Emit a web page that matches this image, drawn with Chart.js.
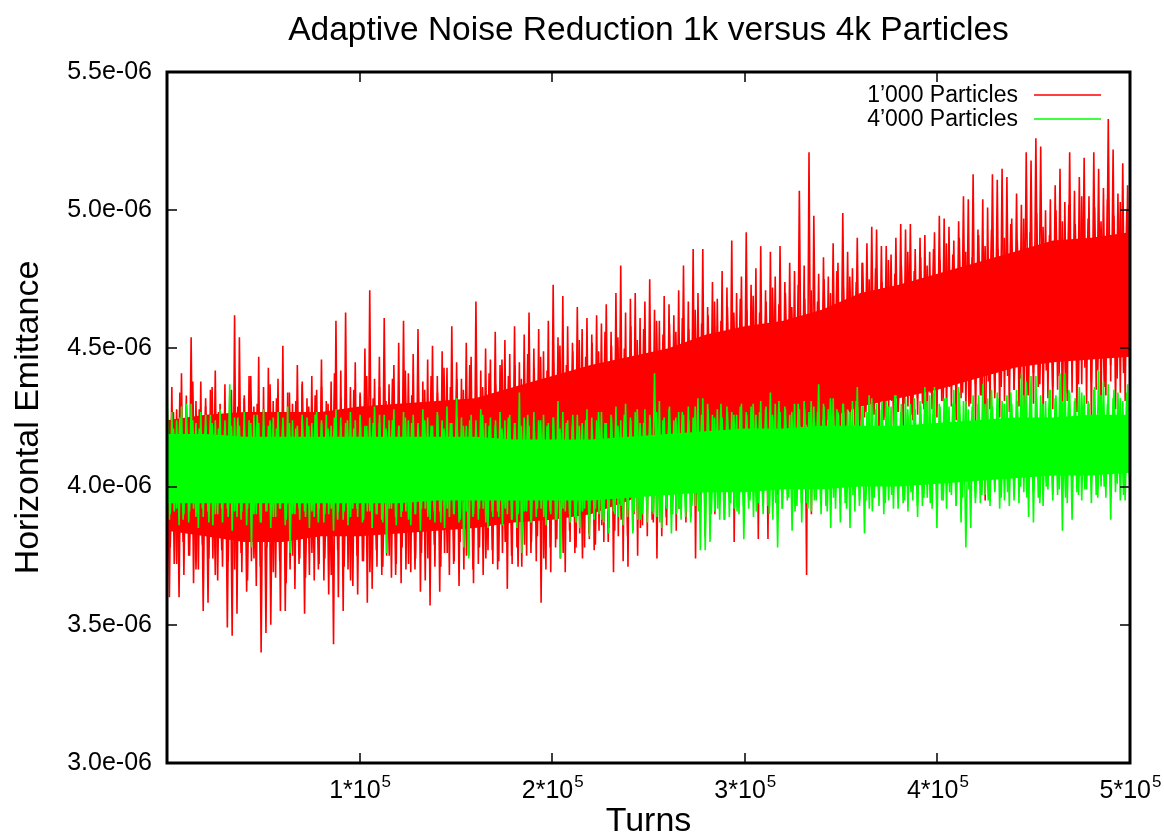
<!DOCTYPE html>
<html>
<head>
<meta charset="utf-8">
<title>Adaptive Noise Reduction 1k versus 4k Particles</title>
<script src="https://cdn.jsdelivr.net/npm/chart.js@4.4.1/dist/chart.umd.min.js"></script>
<style>
  html, body { margin: 0; padding: 0; background: #fff; }
  canvas { display: block; }
</style>
</head>
<body>
<canvas id="chart" width="1164" height="836"></canvas>
<script>
// ─── Data (emittance in units of 1e-6) ───────────────
const TITLE = "Adaptive Noise Reduction 1k versus 4k Particles";
const seriesNames = ["1\u2019000 Particles", "4\u2019000 Particles"];

const yTicks = [3.0, 3.5, 4.0, 4.5, 5.0, 5.5];
const xTicks = [100000, 200000, 300000, 400000, 500000];
const xTickBase = ["1*10", "2*10", "3*10", "4*10", "5*10"];
const xTickExp = "5";
const turnsMax = 500000;

// dense core of each trace, sampled every 20k turns
const bandTurns = [0, 20000, 40000, 60000, 80000, 100000, 120000, 140000, 160000, 180000,
  200000, 220000, 240000, 260000, 280000, 300000, 320000, 340000, 360000, 380000,
  400000, 420000, 440000, 460000, 480000, 500000];

const redCoreTop = [4.24, 4.26, 4.27, 4.27, 4.27, 4.29, 4.30, 4.31, 4.32, 4.36,
  4.40, 4.44, 4.47, 4.50, 4.55, 4.58, 4.60, 4.64, 4.70, 4.73,
  4.77, 4.81, 4.85, 4.89, 4.90, 4.92];
const redCoreBot = [3.84, 3.82, 3.80, 3.80, 3.82, 3.82, 3.83, 3.84, 3.85, 3.87,
  3.88, 3.90, 3.95, 4.02, 4.10, 4.16, 4.20, 4.24, 4.29, 4.32,
  4.35, 4.39, 4.43, 4.45, 4.46, 4.47];
const greenCoreTop = [4.19, 4.19, 4.18, 4.18, 4.18, 4.18, 4.18, 4.18, 4.18, 4.17,
  4.17, 4.17, 4.18, 4.19, 4.20, 4.21, 4.21, 4.22, 4.22, 4.22,
  4.23, 4.24, 4.25, 4.25, 4.26, 4.26];
const greenCoreBot = [3.94, 3.94, 3.94, 3.94, 3.94, 3.94, 3.94, 3.95, 3.95, 3.95,
  3.95, 3.95, 3.96, 3.97, 3.98, 3.98, 3.99, 3.99, 4.00, 4.00,
  4.01, 4.02, 4.03, 4.04, 4.04, 4.05];

// big spikes: maxima / minima alternating along the trace (200 each over 0..5e5 turns)
const redPeaks = [
  4.30, 4.36, 4.28, 4.41, 4.33, 4.54, 4.31, 4.38, 4.29, 4.35,
  4.42, 4.30, 4.37, 4.33, 4.62, 4.54, 4.32, 4.40, 4.29, 4.47,
  4.36, 4.43, 4.31, 4.39, 4.51, 4.34, 4.30, 4.44, 4.37, 4.32,
  4.40, 4.35, 4.46, 4.31, 4.38, 4.60, 4.42, 4.63, 4.36, 4.45,
  4.34, 4.50, 4.71, 4.39, 4.47, 4.61, 4.37, 4.44, 4.52, 4.60,
  4.41, 4.48, 4.57, 4.38, 4.46, 4.51, 4.40, 4.49, 4.43, 4.58,
  4.45, 4.39, 4.52, 4.47, 4.67, 4.42, 4.50, 4.46, 4.56, 4.44,
  4.53, 4.48, 4.58, 4.45, 4.55, 4.63, 4.50, 4.57, 4.49, 4.60,
  4.73, 4.54, 4.69, 4.58, 4.52, 4.65, 4.57, 4.61, 4.55, 4.62,
  4.59, 4.66, 4.56, 4.70, 4.80, 4.63, 4.68, 4.70, 4.61, 4.67,
  4.75, 4.64, 4.60, 4.69, 4.66, 4.62, 4.71, 4.80, 4.67, 4.86,
  4.70, 4.86, 4.65, 4.74, 4.68, 4.78, 4.72, 4.89, 4.70, 4.76,
  4.92, 4.73, 4.79, 4.87, 4.71, 4.85, 4.76, 4.87, 4.74, 4.81,
  4.78, 5.07, 4.80, 5.21, 4.98, 4.77, 4.83, 4.76, 4.88, 4.81,
  4.99, 4.85, 4.79, 4.90, 4.81, 4.88, 4.94, 4.93, 4.87, 4.87,
  4.84, 4.90, 4.95, 4.93, 4.95, 4.86, 4.90, 4.91, 4.85, 4.92,
  4.98, 4.97, 4.94, 4.89, 4.96, 5.05, 5.04, 5.13, 4.93, 5.04,
  5.01, 5.13, 5.11, 5.15, 5.12, 4.97, 5.06, 5.02, 5.21, 5.18,
  5.26, 5.23, 5.00, 5.04, 5.09, 5.15, 5.03, 5.21, 5.07, 5.12,
  5.19, 5.05, 5.21, 5.15, 5.08, 5.33, 5.22, 5.06, 5.17, 5.09];
const redDips = [
  3.60, 3.72, 3.60, 3.68, 3.75, 3.65, 3.70, 3.55, 3.58, 3.74,
  3.66, 3.71, 3.49, 3.46, 3.54, 3.69, 3.62, 3.73, 3.64, 3.40,
  3.47, 3.50, 3.67, 3.55, 3.55, 3.70, 3.63, 3.74, 3.54, 3.68,
  3.66, 3.72, 3.66, 3.61, 3.43, 3.60, 3.55, 3.70, 3.64, 3.61,
  3.73, 3.58, 3.63, 3.71, 3.68, 3.75, 3.67, 3.72, 3.65, 3.70,
  3.69, 3.74, 3.62, 3.66, 3.57, 3.71, 3.62, 3.76, 3.68, 3.73,
  3.64, 3.70, 3.75, 3.65, 3.72, 3.68, 3.77, 3.72, 3.70, 3.76,
  3.63, 3.72, 3.78, 3.71, 3.75, 3.80, 3.73, 3.58, 3.70, 3.69,
  3.78, 3.74, 3.69, 3.80, 3.76, 3.83, 3.78, 3.81, 3.77, 3.84,
  3.80, 3.85, 3.69, 3.82, 3.73, 3.71, 3.84, 3.75, 3.86, 3.82,
  3.88, 3.74, 3.82, 3.86, 3.90, 3.84, 3.92, 3.87, 3.89, 3.74,
  3.93, 3.82, 3.95, 3.90, 3.97, 3.88, 3.96, 3.80, 3.94, 3.99,
  3.96, 4.02, 3.81, 3.98, 3.81, 4.04, 3.97, 4.06, 4.00, 4.08,
  4.03, 4.10, 3.68, 3.90, 4.12, 4.06, 4.15, 4.10, 4.18, 4.13,
  4.20, 4.15, 4.22, 4.18, 4.25, 4.21, 4.26, 4.19, 4.24, 4.28,
  4.22, 4.27, 4.20, 4.29, 4.24, 4.26, 4.30, 4.23, 4.28, 4.25,
  4.31, 4.26, 4.29, 4.24, 4.32, 4.27, 4.30, 4.22, 4.33, 3.95,
  4.28, 4.34, 4.25, 4.31, 4.27, 4.35, 4.29, 4.24, 4.33, 4.30,
  4.36, 4.26, 4.32, 4.28, 4.35, 4.23, 4.31, 4.34, 4.27, 4.37,
  4.30, 4.25, 4.35, 4.29, 4.33, 4.38, 4.28, 4.34, 4.31, 4.36];
const greenPeaks = [
  4.38, 4.27, 4.24, 4.29, 4.30, 4.30, 4.23, 4.27, 4.22, 4.26,
  4.24, 4.28, 4.23, 4.37, 4.25, 4.22, 4.27, 4.24, 4.26, 4.23,
  4.28, 4.22, 4.25, 4.27, 4.23, 4.29, 4.24, 4.22, 4.26, 4.25,
  4.23, 4.27, 4.24, 4.26, 4.22, 4.28, 4.25, 4.23, 4.27, 4.24,
  4.26, 4.22, 4.25, 4.29, 4.23, 4.26, 4.24, 4.28, 4.22, 4.27,
  4.24, 4.26, 4.23, 4.28, 4.25, 4.22, 4.27, 4.24, 4.29, 4.23,
  4.32, 4.25, 4.22, 4.26, 4.24, 4.28, 4.23, 4.25, 4.22, 4.27,
  4.24, 4.26, 4.23, 4.34, 4.25, 4.22, 4.27, 4.24, 4.26, 4.23,
  4.25, 4.31, 4.27, 4.24, 4.22, 4.26, 4.23, 4.28, 4.25, 4.24,
  4.27, 4.23, 4.26, 4.29, 4.24, 4.30, 4.25, 4.27, 4.23, 4.28,
  4.26, 4.41, 4.31, 4.25, 4.28, 4.24, 4.27, 4.26, 4.29, 4.25,
  4.32, 4.32, 4.30, 4.26, 4.28, 4.25, 4.29, 4.27, 4.26, 4.30,
  4.27, 4.29, 4.26, 4.31, 4.28, 4.34, 4.30, 4.27, 4.29, 4.26,
  4.30, 4.28, 4.31, 4.27, 4.29, 4.37, 4.30, 4.28, 4.32, 4.27,
  4.30, 4.28, 4.31, 4.36, 4.29, 4.27, 4.32, 4.30, 4.28, 4.31,
  4.29, 4.33, 4.27, 4.32, 4.30, 4.28, 4.31, 4.36, 4.33, 4.36,
  4.30, 4.32, 4.29, 4.35, 4.36, 4.31, 4.28, 4.33, 4.30, 4.37,
  4.32, 4.29, 4.34, 4.31, 4.33, 4.30, 4.35, 4.41, 4.38, 4.40,
  4.40, 4.33, 4.31, 4.35, 4.32, 4.41, 4.41, 4.34, 4.31, 4.36,
  4.33, 4.30, 4.35, 4.42, 4.38, 4.37, 4.32, 4.34, 4.31, 4.37];
const greenDips = [
  3.88, 3.91, 3.86, 3.90, 3.87, 3.92, 3.85, 3.89, 3.91, 3.86,
  3.90, 3.87, 3.92, 3.84, 3.89, 3.91, 3.86, 3.78, 3.90, 3.87,
  3.91, 3.85, 3.89, 3.92, 3.86, 3.76, 3.90, 3.88, 3.91, 3.85,
  3.89, 3.92, 3.87, 3.90, 3.84, 3.91, 3.88, 3.86, 3.92, 3.89,
  3.87, 3.91, 3.85, 3.90, 3.88, 3.76, 3.92, 3.86, 3.89, 3.91,
  3.86, 3.90, 3.84, 3.92, 3.88, 3.87, 3.91, 3.85, 3.89, 3.90,
  3.87, 3.78, 3.74, 3.90, 3.88, 3.92, 3.85, 3.89, 3.91, 3.86,
  3.90, 3.88, 3.85, 3.76, 3.91, 3.87, 3.89, 3.92, 3.86, 3.90,
  3.88, 3.74, 3.91, 3.87, 3.89, 3.85, 3.92, 3.82, 3.88, 3.90,
  3.87, 3.83, 3.91, 3.89, 3.86, 3.92, 3.83, 3.88, 3.90, 3.87,
  3.91, 3.89, 3.85, 3.92, 3.83, 3.90, 3.88, 3.91, 3.87, 3.93,
  3.77, 3.77, 3.80, 3.91, 3.88, 3.93, 3.89, 3.92, 3.90, 3.81,
  3.92, 3.89, 3.94, 3.90, 3.93, 3.88, 3.78, 3.92, 3.95, 3.84,
  3.93, 3.87, 3.94, 3.91, 3.95, 3.90, 3.93, 3.85, 3.92, 3.87,
  3.94, 3.85, 3.91, 3.95, 3.83, 3.92, 3.96, 3.93, 3.90, 3.95,
  3.92, 3.96, 3.94, 3.91, 3.95, 3.89, 3.93, 3.96, 3.92, 3.85,
  3.95, 3.92, 3.97, 3.93, 3.87, 3.78, 3.85, 3.96, 3.94, 3.97,
  3.93, 3.98, 3.92, 3.95, 3.93, 3.97, 3.94, 3.98, 3.89, 3.87,
  3.96, 3.93, 3.99, 3.95, 3.97, 3.84, 3.94, 3.88, 3.98, 3.95,
  3.99, 3.94, 3.97, 4.00, 3.96, 3.88, 3.98, 3.95, 3.95, 3.99];

// small fuzz along the core edges (150 each over 0..5e5 turns)
const redFuzzHi = [
  4.30, 4.27, 4.34, 4.29, 4.38, 4.28, 4.32, 4.36, 4.27, 4.31,
  4.35, 4.29, 4.33, 4.40, 4.30, 4.28, 4.37, 4.32, 4.29, 4.34,
  4.31, 4.38, 4.29, 4.33, 4.36, 4.30, 4.41, 4.32, 4.28, 4.35,
  4.33, 4.40, 4.32, 4.36, 4.31, 4.39, 4.34, 4.42, 4.33, 4.37,
  4.35, 4.40, 4.34, 4.43, 4.36, 4.39, 4.35, 4.44, 4.38, 4.36,
  4.41, 4.37, 4.46, 4.40, 4.44, 4.39, 4.48, 4.43, 4.47, 4.42,
  4.45, 4.51, 4.44, 4.49, 4.53, 4.47, 4.52, 4.49, 4.56, 4.51,
  4.54, 4.50, 4.58, 4.53, 4.57, 4.52, 4.60, 4.55, 4.59, 4.56,
  4.61, 4.57, 4.64, 4.59, 4.62, 4.67, 4.60, 4.65, 4.63, 4.68,
  4.64, 4.69, 4.63, 4.67, 4.72, 4.66, 4.70, 4.65, 4.73, 4.68,
  4.71, 4.67, 4.75, 4.70, 4.78, 4.72, 4.76, 4.74, 4.81, 4.75,
  4.79, 4.74, 4.82, 4.77, 4.80, 4.85, 4.78, 4.83, 4.80, 4.86,
  4.82, 4.88, 4.84, 4.90, 4.85, 4.83, 4.91, 4.87, 4.93, 4.86,
  4.90, 4.95, 4.89, 4.97, 4.92, 4.99, 4.94, 4.91, 5.00, 4.96,
  5.02, 4.95, 5.05, 4.97, 5.01, 4.96, 5.04, 4.98, 5.03, 5.00];
const redFuzzLo = [
  3.78, 3.72, 3.80, 3.75, 3.70, 3.79, 3.74, 3.68, 3.77, 3.73,
  3.70, 3.76, 3.66, 3.74, 3.71, 3.78, 3.69, 3.73, 3.65, 3.75,
  3.72, 3.67, 3.76, 3.70, 3.74, 3.68, 3.77, 3.71, 3.66, 3.75,
  3.73, 3.69, 3.77, 3.71, 3.75, 3.68, 3.78, 3.72, 3.70, 3.76,
  3.74, 3.79, 3.71, 3.76, 3.72, 3.80, 3.75, 3.70, 3.78, 3.74,
  3.77, 3.73, 3.80, 3.75, 3.71, 3.79, 3.76, 3.82, 3.74, 3.78,
  3.81, 3.76, 3.84, 3.78, 3.74, 3.83, 3.79, 3.86, 3.80, 3.84,
  3.88, 3.82, 3.90, 3.85, 3.92, 3.87, 3.94, 3.89, 3.97, 3.92,
  4.00, 3.95, 4.03, 3.98, 4.06, 4.01, 4.08, 4.04, 4.11, 4.06,
  4.13, 4.08, 4.15, 4.11, 4.17, 4.13, 4.19, 4.15, 4.21, 4.17,
  4.22, 4.18, 4.24, 4.20, 4.26, 4.22, 4.28, 4.24, 4.27, 4.23,
  4.29, 4.25, 4.31, 4.27, 4.30, 4.26, 4.32, 4.28, 4.34, 4.29,
  4.31, 4.36, 4.30, 4.34, 4.29, 4.37, 4.33, 4.38, 4.32, 4.36,
  4.40, 4.35, 4.39, 4.33, 4.41, 4.37, 4.42, 4.36, 4.40, 4.34,
  4.41, 4.37, 4.43, 4.38, 4.42, 4.36, 4.44, 4.39, 4.41, 4.45];
const greenFuzzHi = [
  4.23, 4.21, 4.25, 4.22, 4.24, 4.21, 4.26, 4.23, 4.21, 4.24,
  4.22, 4.25, 4.21, 4.23, 4.26, 4.22, 4.24, 4.21, 4.25, 4.23,
  4.21, 4.24, 4.22, 4.26, 4.23, 4.21, 4.25, 4.22, 4.24, 4.21,
  4.25, 4.22, 4.23, 4.26, 4.21, 4.24, 4.22, 4.25, 4.23, 4.21,
  4.24, 4.22, 4.26, 4.21, 4.23, 4.25, 4.22, 4.24, 4.21, 4.26,
  4.22, 4.24, 4.21, 4.25, 4.23, 4.22, 4.26, 4.21, 4.24, 4.22,
  4.25, 4.21, 4.23, 4.26, 4.22, 4.24, 4.21, 4.27, 4.23, 4.25,
  4.22, 4.26, 4.24, 4.28, 4.23, 4.25, 4.27, 4.24, 4.29, 4.25,
  4.27, 4.24, 4.29, 4.26, 4.28, 4.25, 4.30, 4.27, 4.26, 4.29,
  4.26, 4.30, 4.27, 4.29, 4.26, 4.31, 4.28, 4.27, 4.30, 4.28,
  4.31, 4.27, 4.29, 4.32, 4.28, 4.30, 4.27, 4.31, 4.29, 4.33,
  4.28, 4.31, 4.29, 4.33, 4.30, 4.28, 4.32, 4.29, 4.31, 4.34,
  4.29, 4.32, 4.30, 4.34, 4.31, 4.29, 4.33, 4.30, 4.35, 4.32,
  4.30, 4.34, 4.31, 4.33, 4.36, 4.32, 4.30, 4.35, 4.33, 4.31,
  4.35, 4.32, 4.34, 4.31, 4.36, 4.33, 4.30, 4.35, 4.32, 4.34];
const greenFuzzLo = [
  3.90, 3.92, 3.88, 3.91, 3.89, 3.92, 3.87, 3.90, 3.92, 3.89,
  3.91, 3.88, 3.92, 3.90, 3.87, 3.91, 3.89, 3.92, 3.88, 3.90,
  3.92, 3.89, 3.91, 3.87, 3.90, 3.92, 3.88, 3.91, 3.89, 3.92,
  3.88, 3.91, 3.90, 3.87, 3.92, 3.89, 3.91, 3.88, 3.90, 3.92,
  3.89, 3.91, 3.87, 3.92, 3.90, 3.88, 3.91, 3.89, 3.92, 3.87,
  3.91, 3.89, 3.92, 3.88, 3.90, 3.91, 3.87, 3.92, 3.89, 3.91,
  3.88, 3.92, 3.90, 3.87, 3.91, 3.89, 3.92, 3.88, 3.91, 3.90,
  3.93, 3.89, 3.91, 3.88, 3.92, 3.90, 3.87, 3.93, 3.90, 3.92,
  3.89, 3.93, 3.91, 3.94, 3.90, 3.92, 3.88, 3.94, 3.91, 3.93,
  3.95, 3.91, 3.93, 3.90, 3.94, 3.92, 3.96, 3.91, 3.94, 3.92,
  3.95, 3.93, 3.91, 3.96, 3.94, 3.92, 3.97, 3.93, 3.95, 3.91,
  3.96, 3.94, 3.97, 3.92, 3.95, 3.98, 3.93, 3.96, 3.94, 3.97,
  3.95, 3.98, 3.93, 3.96, 3.99, 3.94, 3.97, 3.95, 3.99, 3.96,
  3.98, 3.95, 4.00, 3.96, 3.98, 3.94, 4.00, 3.97, 3.99, 3.96,
  4.01, 3.97, 3.99, 4.02, 3.96, 4.00, 3.98, 4.01, 3.97, 4.00];

// ─── Helpers ─────────────────────────────────────────
const RED = "#ff0000";
const GREEN = "#00ff00";
const FONT = "'Liberation Sans', Arial, Helvetica, sans-serif";

// interleave maxima and minima into one trace, evenly over the turns
function trace(peaks, dips) {
  const n = peaks.length * 2;
  const pts = [];
  for (let i = 0; i < n; i++) {
    const k = Math.floor(i / 2);
    pts.push({ x: i * turnsMax / (n - 1), y: i % 2 === 0 ? peaks[k] : dips[k] });
  }
  return pts;
}
function band(values) {
  return bandTurns.map((t, i) => ({ x: t, y: values[i] }));
}

function traceSet(label, data, color) {
  return { label, data, borderColor: color, borderWidth: 1.6, pointRadius: 0, tension: 0, fill: false };
}
function bandSet(label, data, color) {
  return { label, data, borderColor: "transparent", borderWidth: 0, backgroundColor: color,
    pointRadius: 0, tension: 0, fill: color ? "+1" : false };
}

// ─── Frame, ticks and texts ──────────────────────────
const framePlugin = {
  id: "frame",
  afterDraw(chart) {
    const { ctx, chartArea: a, scales: { x, y } } = chart;
    ctx.save();

    // inward ticks on all four sides
    ctx.strokeStyle = "#000";
    ctx.lineWidth = 1.5;
    ctx.beginPath();
    yTicks.forEach(v => {
      const py = Math.round(y.getPixelForValue(v));
      ctx.moveTo(a.left, py); ctx.lineTo(a.left + 10, py);
      ctx.moveTo(a.right, py); ctx.lineTo(a.right - 10, py);
    });
    xTicks.forEach(v => {
      const px = Math.round(x.getPixelForValue(v));
      ctx.moveTo(px, a.bottom); ctx.lineTo(px, a.bottom - 10);
      ctx.moveTo(px, a.top); ctx.lineTo(px, a.top + 10);
    });
    ctx.stroke();

    ctx.lineWidth = 3;
    ctx.strokeRect(a.left, a.top, a.right - a.left, a.bottom - a.top);

    ctx.fillStyle = "#000";

    // x tick labels with superscript exponent
    xTicks.forEach((v, i) => {
      const px = x.getPixelForValue(v);
      ctx.font = "25px " + FONT;
      const wBase = ctx.measureText(xTickBase[i]).width;
      ctx.font = "17px " + FONT;
      const wExp = ctx.measureText(xTickExp).width;
      const x0 = px - (wBase + wExp) / 2;
      ctx.textAlign = "left";
      ctx.textBaseline = "alphabetic";
      ctx.font = "25px " + FONT;
      ctx.fillText(xTickBase[i], x0, a.bottom + 35);
      ctx.font = "17px " + FONT;
      ctx.fillText(xTickExp, x0 + wBase + 1, a.bottom + 24);
    });

    // title
    ctx.textAlign = "center";
    ctx.textBaseline = "middle";
    ctx.font = "33.5px " + FONT;
    ctx.fillText(TITLE, (a.left + a.right) / 2, 31);

    // axis titles
    ctx.font = "34px " + FONT;
    ctx.fillText("Turns", (a.left + a.right) / 2, 822);
    ctx.save();
    ctx.translate(29, (a.top + a.bottom) / 2);
    ctx.rotate(-Math.PI / 2);
    ctx.fillText("Horizontal Emittance", 0, 0);
    ctx.restore();

    // key, gnuplot style: text then sample line
    const keyColors = [RED, GREEN];
    ctx.font = "23px " + FONT;
    ctx.textAlign = "right";
    seriesNames.forEach((name, i) => {
      const ky = 95 + i * 24;
      ctx.fillStyle = "#000";
      ctx.fillText(name, 1018, ky + 1);
      ctx.strokeStyle = keyColors[i];
      ctx.lineWidth = 1.6;
      ctx.beginPath();
      ctx.moveTo(1034, ky);
      ctx.lineTo(1101, ky);
      ctx.stroke();
    });

    ctx.restore();
  }
};

// ─── Chart ───────────────────────────────────────────
new Chart(document.getElementById("chart").getContext("2d"), {
  type: "line",
  data: {
    datasets: [
      // first dataset is painted last (on top)
      traceSet(seriesNames[1], trace(greenFuzzHi, greenFuzzLo), GREEN),
      traceSet(seriesNames[1], trace(greenPeaks, greenDips), GREEN),
      bandSet("green core", band(greenCoreTop), GREEN),
      bandSet("green core low", band(greenCoreBot), null),
      traceSet(seriesNames[0], trace(redFuzzHi, redFuzzLo), RED),
      traceSet(seriesNames[0], trace(redPeaks, redDips), RED),
      bandSet("red core", band(redCoreTop), RED),
      bandSet("red core low", band(redCoreBot), null),
    ],
  },
  options: {
    responsive: false,
    animation: false,
    devicePixelRatio: 1,
    layout: { padding: { top: 72, right: 34, bottom: 0, left: 0 } },
    plugins: {
      legend: { display: false },
      title: { display: false },
      tooltip: { enabled: false },
    },
    scales: {
      x: {
        type: "linear",
        min: 0,
        max: turnsMax,
        grid: { display: false },
        border: { display: false },
        ticks: { display: false, stepSize: 100000 },
        afterFit: s => { s.height = 73; },
      },
      y: {
        type: "linear",
        min: 3.0,
        max: 5.5,
        grid: { display: false, drawTicks: false },
        border: { display: false },
        afterBuildTicks: s => { s.ticks = yTicks.map(v => ({ value: v })); },
        ticks: {
          color: "#000",
          padding: 15,
          font: { family: FONT, size: 25 },
          callback: v => v.toFixed(1) + "e-06",
        },
        afterFit: s => { s.width = 167; },
      },
    },
  },
  plugins: [framePlugin],
});
</script>
</body>
</html>
